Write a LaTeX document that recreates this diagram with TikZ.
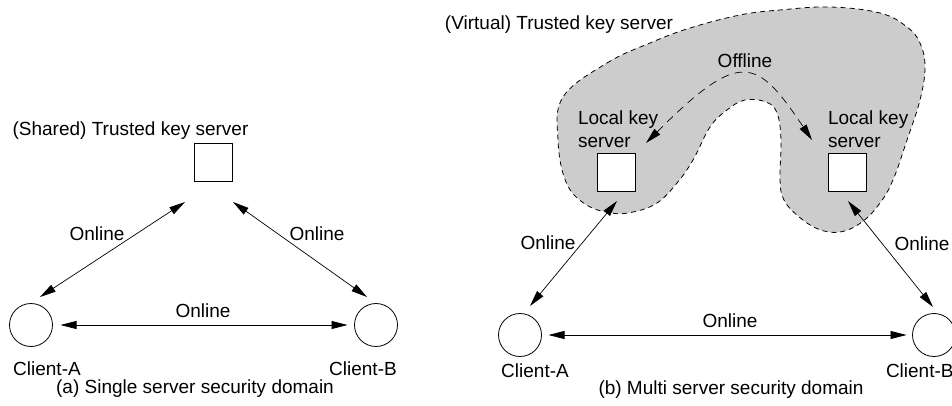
\documentclass[tikz,border=0pt]{standalone}
\usepackage{fontspec}
\setmainfont{Liberation Sans}
\usetikzlibrary{arrows.meta}
\begin{document}
\begin{tikzpicture}[x=1pt,y=-1pt,
  every node/.style={inner sep=0pt, outer sep=0pt, font=\fontsize{19}{23}\selectfont},
  lbl/.style={anchor=base},
  lblw/.style={anchor=base west},
  server/.style={draw, fill=white, minimum size=38pt, line width=0.8pt},
  client/.style={draw, circle, minimum size=43pt, line width=0.8pt},
  tipA/.tip={Triangle[length=16pt,width=8pt]},
  link/.style={tipA-tipA, line width=0.7pt},
  offlink/.style={tipA-tipA, line width=0.7pt, dash pattern=on 8pt off 6pt},
  blobarea/.style={draw, fill=black!20, line width=0.8pt, dash pattern=on 5pt off 4pt}]
\useasboundingbox (0,0) rectangle (952,406);
\clip (0,0) rectangle (952,406);

% ---------- (a) single server ----------
\node[lbl] (tshared) at (130.5,136) {(Shared) Trusted key server};
\node[server] (ks) at (213,162) {};
\node[client] (ca1) at (31,325) {};
\node[client] (cb1) at (376,325) {};
\coordinate (ksA) at (185,202);
\coordinate (caT) at (40,297);
\coordinate (ksB) at (233,202);
\coordinate (cbT) at (367,297);
\draw[link] (ksA) -- (caT);
\draw[link] (ksB) -- (cbT);
\draw[link, shorten <=8pt, shorten >=7pt] (ca1) -- (cb1);
\node[lbl] (on1) at (97,240) {Online};
\node[lbl] (on2) at (317,240) {Online};
\node[lbl] (on3) at (203,317) {Online};
\node[lbl] (cla1) at (47,375) {Client-A};
\node[lbl] (clb1) at (363,375) {Client-B};
\node[lbl] (capa) at (195,393) {(a) Single server security domain};

% ---------- (b) multi server ----------
\draw[blobarea] plot[smooth cycle, tension=0.65] coordinates {
  (563,97) (607,63) (650,43) (690,28) (740,15) (780,10) (830,7) (880,13)
  (907,27) (920,43) (925,67) (920,100) (907,140) (893,180) (880,203)
  (862,222) (840,232) (818,229) (798,216) (784,200) (780,180) (781,140)
  (777,113) (766,102) (745,100) (727,110) (710,127) (693,160) (677,183)
  (657,203) (633,212) (611,213) (585,204) (566,182) (558,140)};
\node[anchor=base] (tvirt) at (559,30) {(Virtual) Trusted key server};
\node[server] (ls1) at (616.5,172) {};
\node[server] (ls2) at (847,172) {};
\node[lblw] (lk1) at (578,125) {Local key};
\node[lblw] (sv1) at (578,148) {server};
\node[lblw] (lk2) at (828,125) {Local key};
\node[lblw] (sv2) at (828,148) {server};
\coordinate (offA) at (646,143);
\coordinate (offB) at (812,140);
\draw[offlink] (offA) .. controls (741,48) and (757,58) .. (offB);
\node[lbl] (offl) at (745,68) {Offline};
\node[client] (ca2) at (520,335) {};
\node[client] (cb2) at (934,335) {};
\coordinate (ls1T) at (617,201);
\coordinate (ca2T) at (530,306);
\coordinate (ls2T) at (848,201);
\coordinate (cb2T) at (933,307);
\draw[link] (ls1T) -- (ca2T);
\draw[link] (ls2T) -- (cb2T);
\draw[link, shorten <=7pt, shorten >=6pt] (ca2) -- (cb2);
\node[lbl] (on4) at (548,249) {Online};
\node[lbl] (on5) at (922,250) {Online};
\node[lbl] (on6) at (730,327) {Online};
\node[lbl] (cla2) at (535,377) {Client-A};
\node[lblw] (clb2) at (886,377) {Client-B};
\node[lbl] (capb) at (731,394) {(b) Multi server security domain};
\end{tikzpicture}
\end{document}
